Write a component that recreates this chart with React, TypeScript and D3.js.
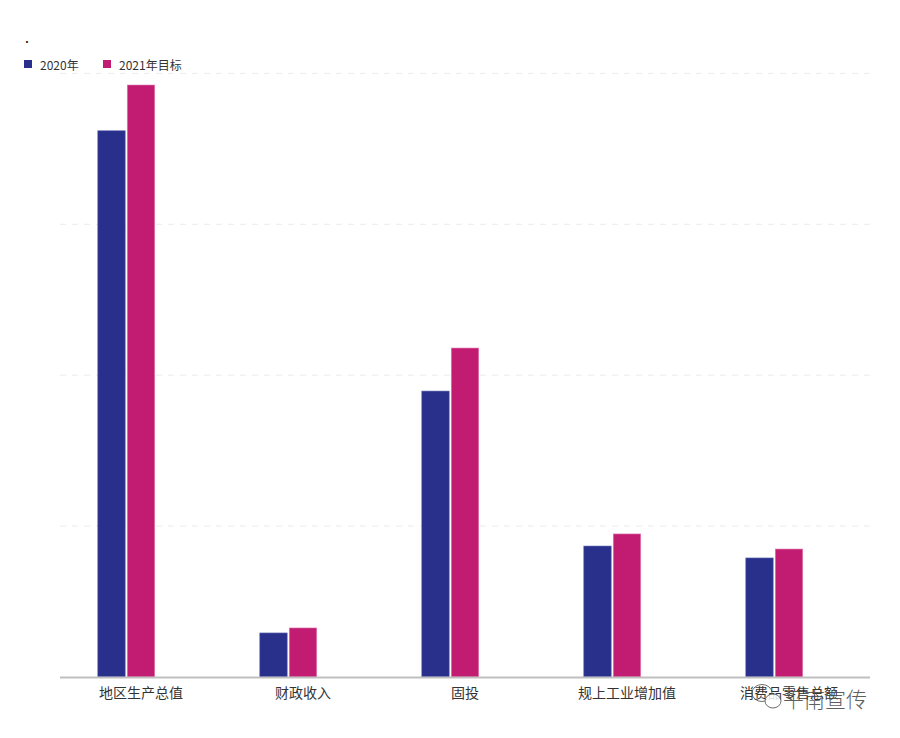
import React from "react";
import * as d3 from "d3";

const categories = ["地区生产总值", "财政收入", "固投", "规上工业增加值", "消费品零售总额"];
const seriesNames = ["2020年", "2021年目标"];
const values2020 = [362, 29.2, 189.5, 86.8, 78.9];
const values2021 = [392.3, 32.5, 218, 94.8, 84.8];
const yTicks = [0, 100, 200, 300, 400];
const colors = ["#28308c", "#c11b72"];

const W = 900;
const H = 738;
const left = 60;
const right = 870;
const top = 73.4;
const bottom = 677;

export default function App() {
  const x0 = d3.scaleBand<string>().domain(categories).range([left, right]).padding(0);
  // third slot is an empty (hidden) series, as in the original chart
  const slots = ["a", "b", "c"];
  const x1 = d3
    .scaleBand<string>()
    .domain(slots)
    .range([0, x0.bandwidth()])
    .paddingInner(0.07)
    .paddingOuter(1.28);
  const y = d3.scaleLinear().domain([0, 400]).range([bottom, top]);
  const series = [values2020, values2021];
  const font = "'Noto Sans CJK SC', 'Noto Sans', sans-serif";

  return (
    <div style={{ position: "absolute", left: 0, top: 0 }}>
      <svg width={W} height={H} style={{ display: "block", background: "#fff" }} fontFamily={font}>
        <text x={25} y={43} fontSize={14} fill="#000">.</text>
        {seriesNames.map((s, i) => {
          const lx = i === 0 ? 24 : 103;
          return (
            <g key={s}>
              <rect x={lx} y={60} width={8} height={8} fill={colors[i]} />
              <text x={lx + 16} y={64} fontSize={12} fill="#333" dominantBaseline="central">
                {s}
              </text>
            </g>
          );
        })}
        {yTicks.slice(1).map((t) => (
          <line
            key={t}
            x1={left}
            x2={right}
            y1={y(t)}
            y2={y(t)}
            stroke="#ececec"
            strokeWidth={1}
            strokeDasharray="6,6"
          />
        ))}
        {categories.map((c, ci) => (
          <g key={c} transform={`translate(${x0(c)},0)`}>
            {series.map((vals, si) => (
              <rect
                key={si}
                x={x1(slots[si])}
                y={y(vals[ci])}
                width={x1.bandwidth()}
                height={bottom - y(vals[ci])}
                fill={colors[si]}
                stroke={si === 0 ? "#6f75b8" : "#e07ab0"}
                strokeWidth={0.6}
              />
            ))}
          </g>
        ))}
        <line x1={left} x2={right} y1={bottom + 0.5} y2={bottom + 0.5} stroke="#bfbfbf" strokeWidth={2} />
        {categories.map((c) => (
          <text
            key={c}
            x={(x0(c) as number) + x0.bandwidth() / 2}
            y={692}
            fontSize={14}
            fill="#333"
            textAnchor="middle"
            dominantBaseline="central"
          >
            {c}
          </text>
        ))}
        <g opacity={0.85}>
          <ellipse cx={762} cy={693} rx={10} ry={8.5} fill="none" stroke="#555" strokeWidth={1} />
          <ellipse cx={773} cy={701} rx={8} ry={7} fill="#fff" stroke="#555" strokeWidth={1} />
          <text x={783} y={698} fontSize={21} fill="#444" fontWeight={300} dominantBaseline="central">
            平南宣传
          </text>
        </g>
      </svg>
    </div>
  );
}
